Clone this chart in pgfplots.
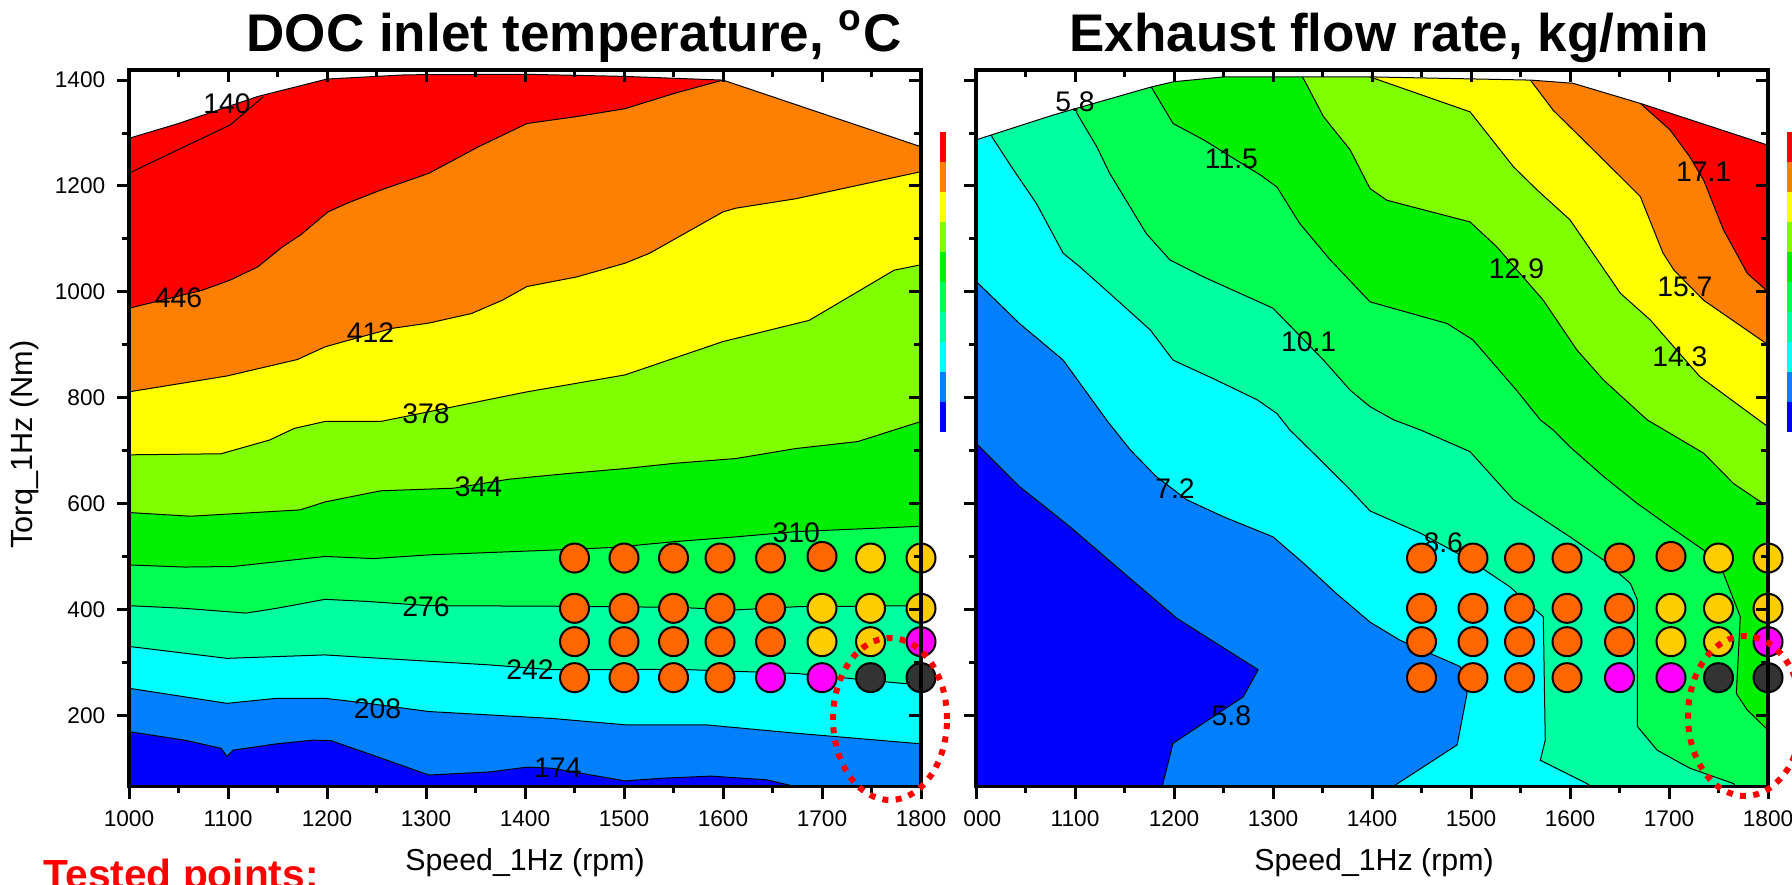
\documentclass[border=0pt]{standalone}
\usepackage{fontspec}
\setmainfont{Liberation Sans}
\usepackage{pgfplots}
\pgfplotsset{compat=1.18}
\definecolor{cRed}{HTML}{FF0000}
\definecolor{cOrange}{HTML}{FF8000}
\definecolor{cYellow}{HTML}{FFFF00}
\definecolor{cLime}{HTML}{80FF00}
\definecolor{cGreen}{HTML}{00F000}
\definecolor{cSGreen}{HTML}{00FF50}
\definecolor{cSpring}{HTML}{00FFA0}
\definecolor{cCyan}{HTML}{00FFFF}
\definecolor{cAzure}{HTML}{0080FF}
\definecolor{cBlue}{HTML}{0000FF}
\definecolor{ptO}{HTML}{FF6600}
\definecolor{ptG}{HTML}{FFCC00}
\definecolor{ptM}{HTML}{FF00FF}
\definecolor{ptD}{HTML}{333333}
\newcommand{\lbl}{\fontsize{8.5}{10}\selectfont}
\pgfplotsset{
  panel/.style={
    at={(#1,29.19pt)}, anchor=south west, width=237.6pt, height=215pt, scale only axis,
    xmin=1000, xmax=1800, ymin=65, ymax=1419,
    xtick={1000,1100,...,1800}, ytick={200,400,...,1400},
    minor x tick num=1, minor y tick num=1,
    axis line style={line width=1pt},
    major tick length=3.6pt, minor tick length=2pt,
    tick style={black, line width=0.9pt},
    tick label style={font=\fontsize{6.8}{8}\selectfont},
    /pgf/number format/assume math mode=true,
    /pgf/number format/1000 sep={},
  },
  cl/.style={fill=#1, draw=black, line width=0.3pt},
  pts/.style={only marks, mark=*, mark size=4.35pt, mark options={fill=#1, draw=black, line width=0.6pt}},
}
\begin{document}
\begin{tikzpicture}
\path[use as bounding box] (0,0) rectangle (537.6pt,265.2pt);

% ---------------- Left panel: DOC inlet temperature ----------------
\begin{axis}[panel=38.7pt, tick pos=left, tick align=outside]
\addplot[fill=cBlue, draw=none] coordinates {(1000,65)(1800,65)(1800,1420)(1000,1420)} -- cycle;
\addplot[cl=cAzure] coordinates {(1000,169)(1056,153)(1093,137.5)(1099,122)(1105,134)(1149,146)(1186,153)(1204,152)(1241,128)(1303,87)(1365,93)(1402,102)(1427,100)(1501,76)(1538,81)(1588,85)(1644,78)(1674,65)(1800,65)(1800,1420)(1000,1420)} -- cycle;
\addplot[cl=cCyan] coordinates {(1000,251)(1099,222.5)(1149,232)(1198,232)(1241,222.5)(1303,207)(1427,194)(1501,182)(1582,182)(1674,166)(1800,146)(1800,1420)(1000,1420)} -- cycle;
\addplot[cl=cSpring] coordinates {(1000,330)(1099,307.5)(1198,314)(1241,309)(1365,295)(1427,286)(1489,286)(1551,287)(1674,279)(1800,257)(1800,1420)(1000,1420)} -- cycle;
\addplot[cl=cSGreen] coordinates {(1000,407)(1056,402)(1118,393)(1149,402)(1198,419)(1241,415)(1303,407)(1427,406)(1551,404)(1613,399)(1674,405)(1800,407)(1800,1420)(1000,1420)} -- cycle;
\addplot[cl=cGreen] coordinates {(1000,484)(1056,480)(1105,481)(1198,500)(1247,496)(1303,503)(1427,512)(1489,517)(1551,528)(1613,537)(1674,547)(1800,557)(1800,1420)(1000,1420)} -- cycle;
\addplot[cl=cLime] coordinates {(1000,583)(1062,576)(1173,588)(1198,603)(1254,624)(1328,629)(1384,646)(1445,657)(1501,666)(1551,676)(1613,685)(1674,704)(1736,717)(1800,755)(1800,1420)(1000,1420)} -- cycle;
\addplot[cl=cYellow] coordinates {(1000,692)(1093,694)(1142,720)(1167,742)(1198,755)(1254,755)(1278,764)(1328,783)(1402,811)(1501,843)(1600,906)(1687,946)(1773,1041)(1800,1051)(1800,1420)(1000,1420)} -- cycle;
\addplot[cl=cOrange] coordinates {(1000,811)(1099,841)(1170,872)(1198,896)(1217,906)(1266,931)(1303,941)(1346,959)(1377,984)(1402,1010)(1452,1028)(1501,1054)(1526,1073)(1600,1151)(1613,1158)(1674,1176)(1800,1227)(1800,1420)(1000,1420)} -- cycle;
\addplot[cl=cRed] coordinates {(1000,969)(1074,1003)(1102,1022)(1130,1047)(1155,1085)(1173,1107)(1201,1151)(1220,1167)(1254,1192)(1303,1224)(1353,1274)(1402,1318)(1452,1331)(1501,1346)(1551,1375)(1600,1400)(1600,1420)(1000,1420)} -- cycle;
\addplot[black, line width=0.3pt] coordinates {(1000,1224)(1049,1268)(1102,1315)(1124,1350)(1136,1369)};
\addplot[cl=white] coordinates {(1000,1290)(1050,1318)(1130,1369)(1200,1402)(1280,1410)(1400,1411)(1500,1407)(1600,1400)(1800,1274)(1800,1420)(1000,1420)} -- cycle;
\node[font=\lbl] at (axis cs:1099,1356) {140};
\node[font=\lbl] at (axis cs:1050,988) {446};
\node[font=\lbl] at (axis cs:1244,922) {412};
\node[font=\lbl] at (axis cs:1300,770) {378};
\node[font=\lbl] at (axis cs:1353,632) {344};
\node[font=\lbl] at (axis cs:1674,544) {310};
\node[font=\lbl] at (axis cs:1300,405) {276};
\node[font=\lbl] at (axis cs:1405,286) {242};
\node[font=\lbl] at (axis cs:1251,213) {208};
\node[font=\lbl] at (axis cs:1433,100) {174};
\addplot[pts=ptO] coordinates {(1450,497)(1500,497)(1550,497)(1597,497)(1648,497)(1700,500)
  (1450,402)(1500,402)(1550,402)(1597,402)(1648,402)
  (1450,339)(1500,339)(1550,339)(1597,339)(1648,339)
  (1450,271)(1500,271)(1550,271)(1597,271)};
\addplot[pts=ptG] coordinates {(1749,497)(1800,497)(1700,402)(1749,402)(1800,402)(1700,339)(1749,339)};
\addplot[pts=ptM] coordinates {(1800,339)(1648,271)(1700,271)};
\addplot[pts=ptD] coordinates {(1749,271)(1800,271)};
\end{axis}
\begin{axis}[panel=38.7pt, tick pos=right, tick align=inside, xticklabels={}, yticklabels={}]
\end{axis}

% ---------------- Right panel: Exhaust flow rate ----------------
\begin{axis}[panel=292.8pt, tick pos=left, tick align=outside, yticklabels={},
  xticklabels={\phantom{1}000,1100,1200,1300,1400,1500,1600,1700,1800}]
\addplot[fill=cBlue, draw=none] coordinates {(1000,65)(1800,65)(1800,1420)(1000,1420)} -- cycle;
\addplot[cl=cAzure] coordinates {(1000,714)(1044,632)(1095,556)(1146,474)(1203,383)(1285,286)(1270,235)(1199,147)(1188,65)(1800,65)(1800,1420)(1000,1420)} -- cycle;
\addplot[cl=cCyan] coordinates {(1000,1020)(1044,940)(1088,871)(1133,755)(1156,701)(1182,651)(1213,607)(1250,575)(1300,537)(1331,487)(1364,430)(1398,376)(1428,342)(1489,292)(1496,241)(1486,144)(1421,65)(1800,65)(1800,1420)(1000,1420)} -- cycle;
\addplot[cl=cSpring] coordinates {(1016,1293)(1038,1230)(1061,1167)(1088,1073)(1105,1047)(1135,997)(1176,928)(1199,871)(1243,833)(1284,796)(1304,770)(1317,739)(1348,682)(1378,626)(1398,586)(1449,544)(1499,493)(1539,443)(1573,386)(1575,153)(1570,115)(1617,71)(1622,65)(1800,65)(1800,1420)(1016,1420)} -- cycle;
\addplot[cl=cSGreen] coordinates {(1102,1337)(1122,1274)(1135,1224)(1172,1110)(1196,1060)(1230,1028)(1300,969)(1351,871)(1378,814)(1398,783)(1422,758)(1449,739)(1499,698)(1543,607)(1600,537)(1634,493)(1661,449)(1668,418)(1668,179)(1688,134)(1721,100)(1765,71)(1768,65)(1800,65)(1800,1420)(1102,1420)} -- cycle;
\addplot[cl=cGreen] coordinates {(1177,1387)(1199,1318)(1230,1287)(1287,1221)(1304,1198)(1327,1129)(1358,1060)(1398,981)(1476,940)(1502,909)(1546,814)(1570,758)(1583,739)(1600,707)(1634,651)(1668,600)(1701,556)(1735,512)(1755,468)(1772,386)(1768,241)(1779,210)(1800,172)(1800,1420)(1177,1420)} -- cycle;
\addplot[cl=cLime] coordinates {(1329,1409)(1351,1331)(1378,1268)(1398,1195)(1415,1173)(1499,1132)(1526,1085)(1573,984)(1607,890)(1634,833)(1678,758)(1735,695)(1765,638)(1795,600)(1800,597)(1800,1420)(1329,1420)} -- cycle;
\addplot[cl=cYellow] coordinates {(1398,1406)(1499,1340)(1543,1236)(1567,1192)(1600,1136)(1651,997)(1681,947)(1731,840)(1768,789)(1800,745)(1800,1420)(1398,1420)} -- cycle;
\addplot[cl=cOrange] coordinates {(1560,1400)(1583,1343)(1634,1249)(1671,1180)(1694,1073)(1705,1041)(1735,984)(1800,900)(1800,1420)(1560,1420)} -- cycle;
\addplot[cl=cRed] coordinates {(1671,1356)(1701,1306)(1721,1255)(1735,1211)(1755,1117)(1768,1073)(1779,1035)(1800,1000)(1800,1420)(1671,1420)} -- cycle;
\addplot[cl=white] coordinates {(1000,1287)(1078,1334)(1177,1387)(1200,1397)(1250,1406)(1400,1406)(1560,1400)(1603,1394)(1671,1356)(1800,1277)(1800,1420)(1000,1420)} -- cycle;
\node[font=\lbl] at (axis cs:1100,1359) {5.8};
\node[font=\lbl] at (axis cs:1258,1252) {11.5};
\node[font=\lbl] at (axis cs:1336,906) {10.1};
\node[font=\lbl] at (axis cs:1546,1044) {12.9};
\node[font=\lbl] at (axis cs:1735,1227) {17.1};
\node[font=\lbl] at (axis cs:1716,1010) {15.7};
\node[font=\lbl] at (axis cs:1711,877) {14.3};
\node[font=\lbl] at (axis cs:1201,629) {7.2};
\node[font=\lbl] at (axis cs:1258,200) {5.8};
\node[font=\lbl] at (axis cs:1472,525) {8.6};
\addplot[pts=ptO] coordinates {(1450,497)(1502,497)(1549,497)(1597,497)(1650,497)(1702,500)
  (1450,402)(1502,402)(1549,402)(1597,402)(1650,402)
  (1450,339)(1502,339)(1549,339)(1597,339)(1650,339)
  (1450,271)(1502,271)(1549,271)(1597,271)};
\addplot[pts=ptG] coordinates {(1750,497)(1800,497)(1702,402)(1750,402)(1800,402)(1702,339)(1750,339)};
\addplot[pts=ptM] coordinates {(1800,339)(1650,271)(1702,271)};
\addplot[pts=ptD] coordinates {(1750,271)(1800,271)};
\end{axis}
\begin{axis}[panel=292.8pt, tick pos=right, tick align=inside, xticklabels={}, yticklabels={}]
\end{axis}

% colour bars
\foreach \c [count=\i from 0] in {cBlue,cAzure,cCyan,cSpring,cSGreen,cGreen,cLime,cYellow,cOrange,cRed}{
  \fill[\c] (282pt,{(135.6+9*\i)*1pt}) rectangle (283.7pt,{(144.6+9*\i)*1pt});
  \fill[\c] (536pt,{(135.6+9*\i)*1pt}) rectangle (537.8pt,{(144.6+9*\i)*1pt});
}

% dotted ellipses
\draw[red, line width=1.8pt, dash pattern=on 1.8pt off 2.2pt] (267pt,49.5pt) ellipse [x radius=17.1pt, y radius=24.3pt];
\draw[red, line width=1.8pt, dash pattern=on 1.8pt off 2.2pt] (523.5pt,50.4pt) ellipse [x radius=17.1pt, y radius=24pt];

% titles and labels
\node[anchor=base, font=\fontsize{15.9}{18}\selectfont\bfseries] at (172.2pt,249.75pt) {DOC inlet temperature, \textsuperscript{o}C};
\node[anchor=base, font=\fontsize{15.9}{18}\selectfont\bfseries] at (416.7pt,249.75pt) {Exhaust flow rate, kg/min};
\node[font=\fontsize{9.1}{10}\selectfont] at (157.5pt,6.3pt) {Speed\_1Hz (rpm)};
\node[font=\fontsize{9.1}{10}\selectfont] at (412.2pt,6.3pt) {Speed\_1Hz (rpm)};
\node[rotate=90, font=\fontsize{9.2}{10}\selectfont] at (7.5pt,131.8pt) {Torq\_1Hz (Nm)};
\node[anchor=base west, text=red, font=\fontsize{12.2}{14}\selectfont\bfseries] at (9.6pt,-1.2pt) {Tested points:};
\end{tikzpicture}
\end{document}
